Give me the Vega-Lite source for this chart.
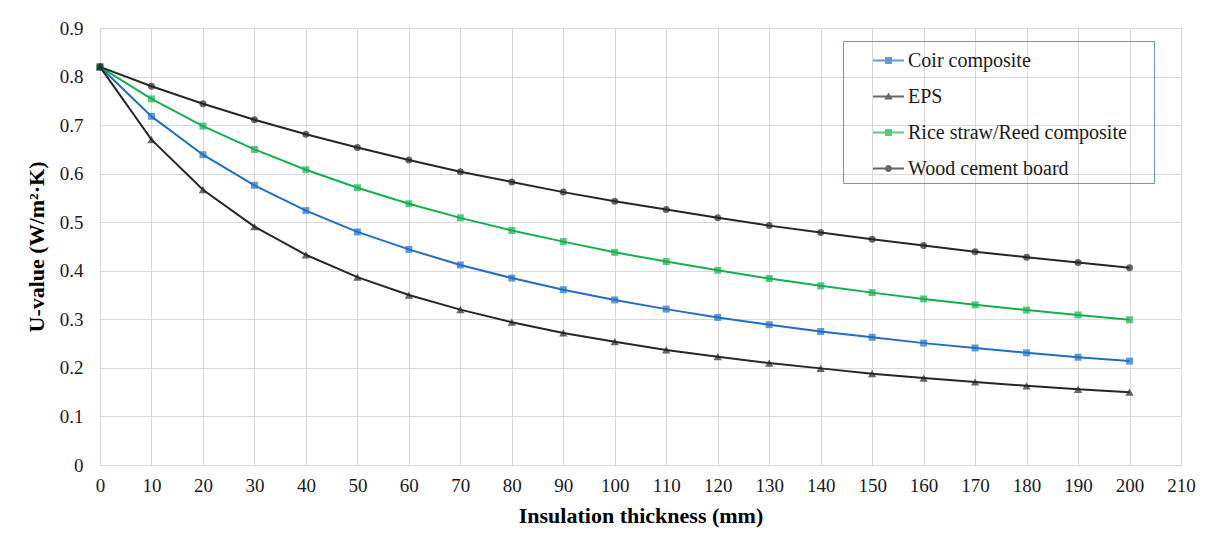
{
  "$schema": "https://vega.github.io/schema/vega-lite/v6.json",
  "autosize": {"type": "none"},
  "width": 1081,
  "height": 437,
  "padding": {"left": 100, "top": 28, "right": 31, "bottom": 74},
  "background": "white",
  "config": {
    "view": {"stroke": "#d9d9d9", "strokeWidth": 1},
    "font": "Liberation Serif",
    "axis": {
      "labelFont": "Liberation Serif",
      "labelFontSize": 19,
      "labelColor": "#1a1a1a",
      "titleFont": "Liberation Serif",
      "titleFontSize": 22,
      "titleFontWeight": "bold",
      "titleColor": "#000000",
      "gridColor": "#d9d9d9",
      "gridWidth": 1,
      "ticks": false,
      "domain": false
    }
  },
  "data": {
    "values": [
      {"series": "Coir composite", "d": 0, "u": 0.820},
      {"series": "Coir composite", "d": 10, "u": 0.718},
      {"series": "Coir composite", "d": 20, "u": 0.639},
      {"series": "Coir composite", "d": 30, "u": 0.576},
      {"series": "Coir composite", "d": 40, "u": 0.524},
      {"series": "Coir composite", "d": 50, "u": 0.480},
      {"series": "Coir composite", "d": 60, "u": 0.444},
      {"series": "Coir composite", "d": 70, "u": 0.412},
      {"series": "Coir composite", "d": 80, "u": 0.385},
      {"series": "Coir composite", "d": 90, "u": 0.361},
      {"series": "Coir composite", "d": 100, "u": 0.340},
      {"series": "Coir composite", "d": 110, "u": 0.321},
      {"series": "Coir composite", "d": 120, "u": 0.304},
      {"series": "Coir composite", "d": 130, "u": 0.289},
      {"series": "Coir composite", "d": 140, "u": 0.275},
      {"series": "Coir composite", "d": 150, "u": 0.263},
      {"series": "Coir composite", "d": 160, "u": 0.251},
      {"series": "Coir composite", "d": 170, "u": 0.241},
      {"series": "Coir composite", "d": 180, "u": 0.231},
      {"series": "Coir composite", "d": 190, "u": 0.222},
      {"series": "Coir composite", "d": 200, "u": 0.214},
      {"series": "EPS", "d": 0, "u": 0.820},
      {"series": "EPS", "d": 10, "u": 0.670},
      {"series": "EPS", "d": 20, "u": 0.567},
      {"series": "EPS", "d": 30, "u": 0.491},
      {"series": "EPS", "d": 40, "u": 0.433},
      {"series": "EPS", "d": 50, "u": 0.387},
      {"series": "EPS", "d": 60, "u": 0.350},
      {"series": "EPS", "d": 70, "u": 0.320},
      {"series": "EPS", "d": 80, "u": 0.294},
      {"series": "EPS", "d": 90, "u": 0.272},
      {"series": "EPS", "d": 100, "u": 0.254},
      {"series": "EPS", "d": 110, "u": 0.237},
      {"series": "EPS", "d": 120, "u": 0.223},
      {"series": "EPS", "d": 130, "u": 0.210},
      {"series": "EPS", "d": 140, "u": 0.199},
      {"series": "EPS", "d": 150, "u": 0.188},
      {"series": "EPS", "d": 160, "u": 0.179},
      {"series": "EPS", "d": 170, "u": 0.171},
      {"series": "EPS", "d": 180, "u": 0.163},
      {"series": "EPS", "d": 190, "u": 0.156},
      {"series": "EPS", "d": 200, "u": 0.150},
      {"series": "Rice straw/Reed composite", "d": 0, "u": 0.820},
      {"series": "Rice straw/Reed composite", "d": 10, "u": 0.754},
      {"series": "Rice straw/Reed composite", "d": 20, "u": 0.698},
      {"series": "Rice straw/Reed composite", "d": 30, "u": 0.650},
      {"series": "Rice straw/Reed composite", "d": 40, "u": 0.608},
      {"series": "Rice straw/Reed composite", "d": 50, "u": 0.571},
      {"series": "Rice straw/Reed composite", "d": 60, "u": 0.538},
      {"series": "Rice straw/Reed composite", "d": 70, "u": 0.509},
      {"series": "Rice straw/Reed composite", "d": 80, "u": 0.483},
      {"series": "Rice straw/Reed composite", "d": 90, "u": 0.460},
      {"series": "Rice straw/Reed composite", "d": 100, "u": 0.438},
      {"series": "Rice straw/Reed composite", "d": 110, "u": 0.419},
      {"series": "Rice straw/Reed composite", "d": 120, "u": 0.401},
      {"series": "Rice straw/Reed composite", "d": 130, "u": 0.384},
      {"series": "Rice straw/Reed composite", "d": 140, "u": 0.369},
      {"series": "Rice straw/Reed composite", "d": 150, "u": 0.355},
      {"series": "Rice straw/Reed composite", "d": 160, "u": 0.342},
      {"series": "Rice straw/Reed composite", "d": 170, "u": 0.330},
      {"series": "Rice straw/Reed composite", "d": 180, "u": 0.319},
      {"series": "Rice straw/Reed composite", "d": 190, "u": 0.309},
      {"series": "Rice straw/Reed composite", "d": 200, "u": 0.299},
      {"series": "Wood cement board", "d": 0, "u": 0.820},
      {"series": "Wood cement board", "d": 10, "u": 0.780},
      {"series": "Wood cement board", "d": 20, "u": 0.744},
      {"series": "Wood cement board", "d": 30, "u": 0.711},
      {"series": "Wood cement board", "d": 40, "u": 0.681},
      {"series": "Wood cement board", "d": 50, "u": 0.654},
      {"series": "Wood cement board", "d": 60, "u": 0.628},
      {"series": "Wood cement board", "d": 70, "u": 0.604},
      {"series": "Wood cement board", "d": 80, "u": 0.583},
      {"series": "Wood cement board", "d": 90, "u": 0.562},
      {"series": "Wood cement board", "d": 100, "u": 0.543},
      {"series": "Wood cement board", "d": 110, "u": 0.526},
      {"series": "Wood cement board", "d": 120, "u": 0.509},
      {"series": "Wood cement board", "d": 130, "u": 0.493},
      {"series": "Wood cement board", "d": 140, "u": 0.479},
      {"series": "Wood cement board", "d": 150, "u": 0.465},
      {"series": "Wood cement board", "d": 160, "u": 0.452},
      {"series": "Wood cement board", "d": 170, "u": 0.439},
      {"series": "Wood cement board", "d": 180, "u": 0.428},
      {"series": "Wood cement board", "d": 190, "u": 0.417},
      {"series": "Wood cement board", "d": 200, "u": 0.406}
    ]
  },
  "encoding": {
    "x": {
      "field": "d", "type": "quantitative",
      "scale": {"domain": [0, 210], "nice": false, "zero": false},
      "axis": {
        "values": [0,10,20,30,40,50,60,70,80,90,100,110,120,130,140,150,160,170,180,190,200,210],
        "title": "Insulation thickness (mm)",
        "labelPadding": 11,
        "titlePadding": 10,
        "labelFlush": false
      }
    },
    "y": {
      "field": "u", "type": "quantitative",
      "scale": {"domain": [0, 0.9], "nice": false},
      "axis": {
        "values": [0,0.1,0.2,0.3,0.4,0.5,0.6,0.7,0.8,0.9],
        "format": ".1~f",
        "title": "U-value (W/m²·K)",
        "labelPadding": 17,
        "titlePadding": 11,
        "labelFlush": false
      }
    }
  },
  "layer": [
    {
      "mark": {"type": "point", "filled": true, "size": 0},
      "encoding": {
        "color": {
          "field": "series", "type": "nominal",
          "scale": {
            "domain": ["Coir composite", "EPS", "Rice straw/Reed composite", "Wood cement board"],
            "range": ["#1f6fc5", "#262626", "#14b04f", "#262626"]
          },
          "legend": {
            "title": " ",
            "titleOrient": "right",
            "titlePadding": 23,
            "titleFontSize": 1,
            "orient": "none",
            "legendX": 743,
            "legendY": 13,
            "padding": 4,
            "rowPadding": 10,
            "symbolSize": 961,
            "symbolStrokeWidth": 0,
            "labelOffset": 30,
            "labelFont": "Liberation Serif",
            "labelFontSize": 20,
            "labelColor": "#1a1a1a",
            "labelLimit": 400,
            "strokeColor": "#7092d8"
          }
        },
        "shape": {
          "field": "series", "type": "nominal",
          "scale": {
            "domain": ["Coir composite", "EPS", "Rice straw/Reed composite", "Wood cement board"],
            "range": [
              "M0.677,-0.065H2.677V0.065H0.677ZM1.451,-0.226H1.903V0.226H1.451Z",
              "M0.677,-0.065H2.677V0.065H0.677ZM1.677,-0.26L1.947,0.2L1.407,0.2Z",
              "M0.677,-0.065H2.677V0.065H0.677ZM1.451,-0.226H1.903V0.226H1.451Z",
              "M0.677,-0.065H2.677V0.065H0.677ZM1.903,0A0.226,0.226 0 1 1 1.451,0A0.226,0.226 0 1 1 1.903,0Z"
            ]
          }
        }
      }
    },
    {
      "mark": {"type": "line", "strokeWidth": 2},
      "encoding": {
        "color": {
          "field": "series", "type": "nominal",
          "scale": {"domain": ["Coir composite", "EPS", "Rice straw/Reed composite", "Wood cement board"]}
        }
      }
    },
    {
      "transform": [{"filter": {"field": "series", "oneOf": ["Coir composite", "Rice straw/Reed composite"]}}],
      "mark": {"type": "point", "filled": true, "shape": "square", "size": 49},
      "encoding": {
        "color": {
          "field": "series", "type": "nominal",
          "scale": {"domain": ["Coir composite", "EPS", "Rice straw/Reed composite", "Wood cement board"]}
        }
      }
    },
    {
      "transform": [{"filter": {"field": "series", "equal": "EPS"}}],
      "mark": {"type": "point", "filled": true, "shape": "triangle-up", "size": 70},
      "encoding": {
        "color": {
          "field": "series", "type": "nominal",
          "scale": {"domain": ["Coir composite", "EPS", "Rice straw/Reed composite", "Wood cement board"]}
        }
      }
    },
    {
      "transform": [{"filter": {"field": "series", "equal": "Wood cement board"}}],
      "mark": {"type": "point", "filled": true, "shape": "circle", "size": 49},
      "encoding": {
        "color": {
          "field": "series", "type": "nominal",
          "scale": {"domain": ["Coir composite", "EPS", "Rice straw/Reed composite", "Wood cement board"]}
        }
      }
    }
  ]
}
